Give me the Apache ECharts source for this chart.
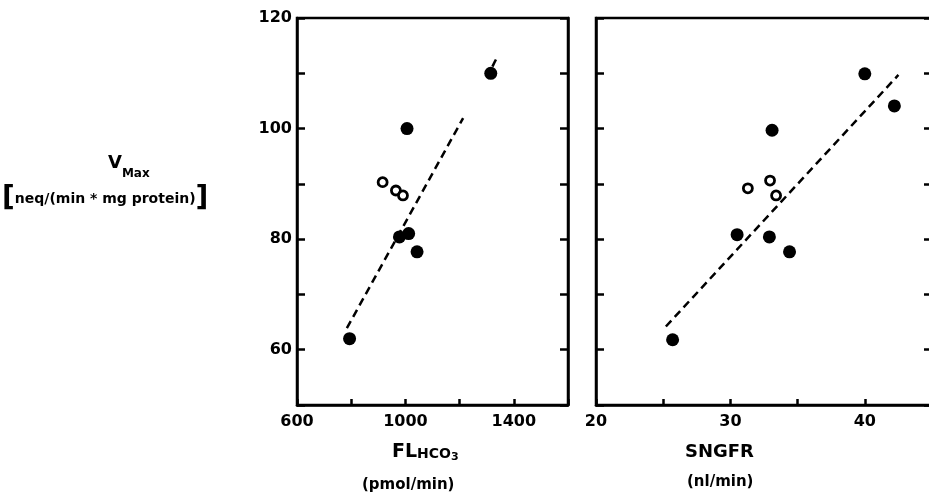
<!DOCTYPE html>
<html>
<head>
<meta charset="utf-8">
<script src="https://cdn.jsdelivr.net/npm/echarts@6/dist/echarts.min.js"></script>
<style>html,body{margin:0;padding:0;background:#fff}#c{width:929px;height:502px}</style>
</head>
<body>
<div id="c"></div>
<script>
// ---- data ----
var leftFilledX = [794, 978, 1006, 1012, 1043, 1315];
var leftFilledY = [62, 80.4, 100, 81, 77.7, 110];
var leftOpenX = [916, 965, 991];
var leftOpenY = [90.3, 88.8, 87.9];
var leftFitX = [784, 1213];
var leftFitY = [63.9, 101.9];
var leftFit2X = [1321, 1342];
var leftFit2Y = [111.2, 113.3];

var rightFilledX = [25.7, 30.5, 32.9, 33.1, 34.4, 40.0, 42.2];
var rightFilledY = [61.8, 80.8, 80.4, 99.7, 77.7, 109.9, 104.1];
var rightOpenX = [31.3, 32.95, 33.4];
var rightOpenY = [89.2, 90.6, 87.9];
var rightFitX = [25.2, 42.5];
var rightFitY = [64.2, 109.7];

var yTickLabels = [60, 80, 100, 120];
var leftXTickLabels = [600, 1000, 1400];
var rightXTickLabels = [20, 30, 40];

function pairs(xs, ys) { return xs.map(function (x, i) { return [x, ys[i]]; }); }

var FONT = 'DejaVu Sans';
var lbl = { color: '#000', fontFamily: FONT, fontWeight: 'bold', fontSize: 16 };

function yAxis(grid, pos, showLabels) {
  return {
    type: 'value', gridIndex: grid, position: pos, min: 50, max: 120, interval: 10,
    splitLine: { show: false },
    axisLine: { show: true, lineStyle: { color: '#000', width: 2.5 } },
    axisTick: { show: true, inside: true, length: 8, lineStyle: { color: '#000', width: 2.5 } },
    axisLabel: Object.assign({
      show: showLabels, margin: 5,
      formatter: function (v) { return yTickLabels.indexOf(v) >= 0 ? String(v) : ''; }
    }, lbl)
  };
}
function xAxis(grid, min, max, interval, labels) {
  return {
    type: 'value', gridIndex: grid, position: 'bottom', min: min, max: max, interval: interval,
    splitLine: { show: false },
    axisLine: { show: true, lineStyle: { color: '#000', width: 2.5 } },
    axisTick: { show: true, inside: true, length: 6, lineStyle: { color: '#000', width: 2.5 } },
    axisLabel: Object.assign({
      margin: 9, showMinLabel: true, showMaxLabel: true,
      formatter: function (v) { return labels.indexOf(v) >= 0 ? String(v) : ''; }
    }, lbl)
  };
}

var filledStyle = { color: '#000', opacity: 1 };
var openStyle = { color: '#fff', borderColor: '#000', borderWidth: 2.8, opacity: 1 };
var dashStyle = { color: '#000', width: 2.5, type: [8, 5] };

var chart = echarts.init(document.getElementById('c'), null, { renderer: 'canvas' });
chart.setOption({
  backgroundColor: '#fff',
  animation: false,
  grid: [
    { left: 297, top: 18, width: 271, height: 387, show: true, borderColor: '#000', borderWidth: 2.5, outerBoundsMode: 'none', containLabel: false },
    { left: 596, top: 18, width: 336, height: 387, show: true, borderColor: '#000', borderWidth: 2.5, outerBoundsMode: 'none', containLabel: false }
  ],
  xAxis: [
    xAxis(0, 600, 1600, 200, leftXTickLabels),
    xAxis(1, 20, 45, 5, rightXTickLabels)
  ],
  yAxis: [
    yAxis(0, 'left', true),
    yAxis(0, 'right', false),
    yAxis(1, 'left', false),
    yAxis(1, 'right', false)
  ],
  series: [
    { type: 'line', xAxisIndex: 0, yAxisIndex: 0, data: pairs(leftFitX, leftFitY), showSymbol: false, symbol: 'none', lineStyle: dashStyle, z: 2 },
    { type: 'line', xAxisIndex: 0, yAxisIndex: 0, data: pairs(leftFit2X, leftFit2Y), showSymbol: false, symbol: 'none', lineStyle: dashStyle, z: 2 },
    { type: 'scatter', xAxisIndex: 0, yAxisIndex: 0, data: pairs(leftFilledX, leftFilledY), symbol: 'circle', symbolSize: 13, itemStyle: filledStyle, z: 3 },
    { type: 'scatter', xAxisIndex: 0, yAxisIndex: 0, data: pairs(leftOpenX, leftOpenY), symbol: 'circle', symbolSize: 9, itemStyle: openStyle, z: 3 },
    { type: 'line', xAxisIndex: 1, yAxisIndex: 2, data: pairs(rightFitX, rightFitY), showSymbol: false, symbol: 'none', lineStyle: dashStyle, z: 2 },
    { type: 'scatter', xAxisIndex: 1, yAxisIndex: 2, data: pairs(rightFilledX, rightFilledY), symbol: 'circle', symbolSize: 13, itemStyle: filledStyle, z: 3 },
    { type: 'scatter', xAxisIndex: 1, yAxisIndex: 2, data: pairs(rightOpenX, rightOpenY), symbol: 'circle', symbolSize: 9, itemStyle: openStyle, z: 3 }
  ],
  graphic: [
    { type: 'text', left: 108, top: 154, style: {
        text: '{v|V}{s|Max}', rich: {
          v: { fontFamily: FONT, fontWeight: 'bold', fontSize: 18, fill: '#000', verticalAlign: 'top' },
          s: { fontFamily: FONT, fontWeight: 'bold', fontSize: 12, fill: '#000', padding: [14, 0, 0, 0] }
        } } },
    { type: 'text', left: 2, top: 185, style: {
        text: '{b|[}{t|neq/(min * mg protein)}{b|]}', rich: {
          b: { fontFamily: FONT, fontSize: 28, fill: '#000', fontWeight: 'bold' },
          t: { fontFamily: FONT, fontWeight: 'bold', fontSize: 14, fill: '#000' }
        } } },
    { type: 'text', left: 392, top: 443, style: {
        text: '{a|FL}{b|HCO}{c|3}', rich: {
          a: { fontFamily: FONT, fontWeight: 'bold', fontSize: 19, fill: '#000' },
          b: { fontFamily: FONT, fontWeight: 'bold', fontSize: 14, fill: '#000', padding: [4, 0, 0, 0] },
          c: { fontFamily: FONT, fontWeight: 'bold', fontSize: 11, fill: '#000', padding: [10, 0, 0, 0] }
        } } },
    { type: 'text', left: 362, top: 478, style: { text: '(pmol/min)', font: 'bold 15px "DejaVu Sans"', fill: '#000' } },
    { type: 'text', left: 685, top: 443, style: { text: 'SNGFR', font: 'bold 18px "DejaVu Sans"', fill: '#000' } },
    { type: 'text', left: 687, top: 475, style: { text: '(nl/min)', font: 'bold 15px "DejaVu Sans"', fill: '#000' } }
  ]
});
</script>
</body>
</html>
